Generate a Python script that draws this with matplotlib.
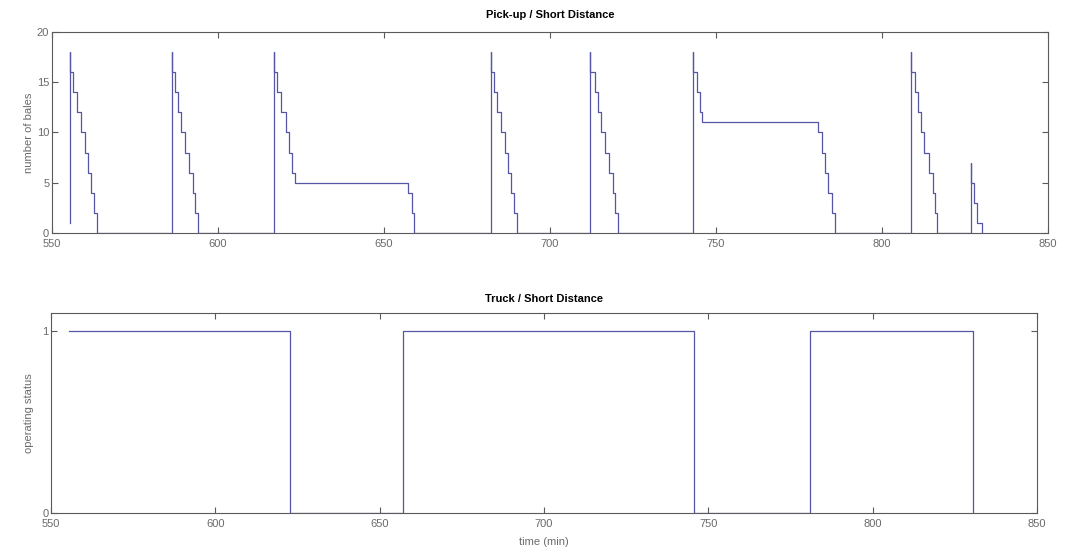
import matplotlib
matplotlib.use("Agg")
import matplotlib.pyplot as plt

plt.rcParams['font.family'] = ['Liberation Sans', 'DejaVu Sans']

# pick-up: number of bales on the field (step values, held until the next time)
pick_time = [555.4, 555.4, 555.4, 556.4, 557.6, 558.7, 559.9, 560.9, 561.7, 562.7, 563.5,
             586.1, 586.1, 587.1, 588.0, 588.9, 590.1, 591.4, 592.6, 593.1, 594.1,
             617.0, 617.0, 617.7, 619.0, 620.5, 621.5, 622.2, 623.2, 657.3, 658.3, 659.0,
             682.1, 682.1, 683.1, 684.1, 685.2, 686.4, 687.4, 688.3, 689.3, 690.0,
             712.1, 712.1, 713.6, 714.6, 715.4, 716.6, 717.9, 719.1, 719.6, 720.6,
             743.0, 743.0, 744.2, 745.2, 745.7, 780.7, 781.8, 782.8, 783.8, 784.8, 785.8,
             808.6, 808.6, 809.9, 810.9, 811.7, 812.7, 814.2, 815.3, 816.0, 816.7,
             826.7, 826.9, 827.7, 828.7, 830.0]
pick_bales = [1, 18, 16, 14, 12, 10, 8, 6, 4, 2, 0,
              18, 16, 14, 12, 10, 8, 6, 4, 2, 0,
              18, 16, 14, 12, 10, 8, 6, 5, 4, 2, 0,
              18, 16, 14, 12, 10, 8, 6, 4, 2, 0,
              18, 16, 14, 12, 10, 8, 6, 4, 2, 0,
              18, 16, 14, 12, 11, 10, 8, 6, 4, 2, 0,
              18, 16, 14, 12, 10, 8, 6, 4, 2, 0,
              7, 5, 3, 1, 0]

# truck: operating status
truck_time = [555.5, 622.7, 657.1, 745.7, 780.9, 830.4]
truck_status = [1, 0, 1, 0, 1, 0]

line_col = '#5656a6'
axis_col = '#5a5a5a'
text_col = '#6a6a6a'

fig = plt.figure(figsize=(10.68, 5.56), dpi=100)
ax1 = fig.add_axes([0.0487, 0.581, 0.9326, 0.3615])
ax2 = fig.add_axes([0.0478, 0.0773, 0.9232, 0.3597])

ax1.step(pick_time, pick_bales, where='post', color=line_col, lw=0.9)
ax1.set_xlim(550, 850)
ax1.set_ylim(0, 20)
ax1.set_yticks([0, 5, 10, 15, 20])
ax1.set_ylabel('number of bales', fontsize=8, color=text_col, labelpad=2)
ax1.set_title('Pick-up / Short Distance', fontsize=8, fontweight='bold', pad=10)

ax2.step(truck_time, truck_status, where='post', color=line_col, lw=0.9)
ax2.set_xlim(550, 850)
ax2.set_ylim(0, 1.1)
ax2.set_yticks([0, 1])
ax2.set_ylabel('operating status', fontsize=8, color=text_col, labelpad=6)
ax2.set_xlabel('time (min)', fontsize=8, color=text_col, labelpad=6)
ax2.set_title('Truck / Short Distance', fontsize=8, fontweight='bold', pad=8)

for ax in (ax1, ax2):
    ax.set_xticks([550, 600, 650, 700, 750, 800, 850])
    ax.tick_params(direction='in', top=True, right=True, length=4, width=0.8,
                   color=axis_col, labelcolor=text_col, labelsize=8)
    ax.tick_params(axis='x', pad=4)
    ax.tick_params(axis='y', pad=2)
    for s in ax.spines.values():
        s.set_color(axis_col)
        s.set_linewidth(0.8)

fig.savefig('out.png', dpi=100)
